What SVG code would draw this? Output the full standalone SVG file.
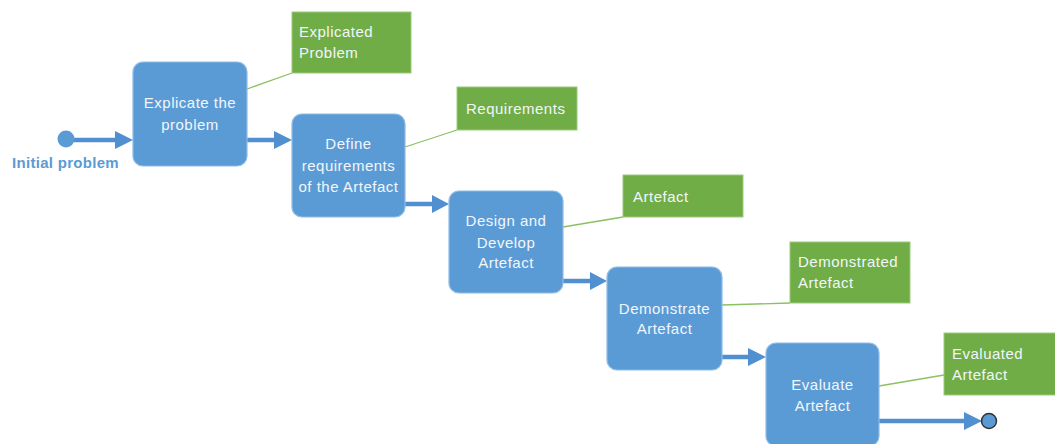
<svg xmlns="http://www.w3.org/2000/svg" width="1055" height="444" viewBox="0 0 1055 444">
<style>
.step{fill:#5B9BD5;stroke:#8DBCE6;stroke-width:1.2}
.out{fill:#70AD47;stroke:#9CCB7A;stroke-width:1}
.t{font-family:"Liberation Sans",Arial,sans-serif;font-size:15px;fill:#F2F6FB;letter-spacing:0.5px}
.tc{text-anchor:middle}
.link{stroke:#8CC063;stroke-width:1.3;fill:none}
.flow{stroke:#5090D0;stroke-width:4.5;fill:none}
.head{fill:#5090D0}
</style>
<rect width="1055" height="444" fill="#fff"/>
<g id="connectors">
<line class="link" x1="247" y1="89" x2="292" y2="73"/>
<line class="link" x1="405" y1="147" x2="457" y2="130"/>
<line class="link" x1="563" y1="227" x2="623" y2="217"/>
<line class="link" x1="722" y1="305" x2="790" y2="303"/>
<line class="link" x1="879" y1="386" x2="944" y2="375"/>
<line class="flow" x1="66" y1="140" x2="117" y2="140"/>
<polygon class="head" points="115,131 133,140 115,149"/>
<line class="flow" x1="247" y1="140" x2="276" y2="140"/>
<polygon class="head" points="274,131 292,140 274,149"/>
<line class="flow" x1="405" y1="204" x2="434" y2="204"/>
<polygon class="head" points="432,195 449,204 432,213"/>
<line class="flow" x1="563" y1="281" x2="592" y2="281"/>
<polygon class="head" points="590,272 607,281 590,290"/>
<line class="flow" x1="722" y1="357" x2="750" y2="357"/>
<polygon class="head" points="748,348 766,357 748,366"/>
<line class="flow" x1="879" y1="421" x2="966" y2="421"/>
<polygon class="head" points="964,412 982,421 964,430"/>
</g>
<g id="start">
<circle cx="66" cy="139" r="8.5" fill="#5B9BD5"/>
<text x="12" y="168" font-family="Liberation Sans,Arial,sans-serif" font-size="15" font-weight="bold" letter-spacing="0.3" fill="#5B9BD5">Initial problem</text>
</g>
<g id="end">
<circle cx="989" cy="421" r="7.5" fill="#5B9BD5" stroke="#333" stroke-width="1.5"/>
</g>
<g id="step1">
<rect class="step" x="133" y="62" width="114" height="104" rx="10"/>
<text class="t tc" x="190" y="108">Explicate the</text>
<text class="t tc" x="190" y="130">problem</text>
</g>
<g id="step2">
<rect class="step" x="292" y="114" width="113" height="103" rx="10"/>
<text class="t tc" x="348.5" y="149">Define</text>
<text class="t tc" x="348.5" y="171">requirements</text>
<text class="t tc" x="348.5" y="192">of the Artefact</text>
</g>
<g id="step3">
<rect class="step" x="449" y="191" width="114" height="102" rx="10"/>
<text class="t tc" x="506" y="226">Design and</text>
<text class="t tc" x="506" y="248">Develop</text>
<text class="t tc" x="506" y="268">Artefact</text>
</g>
<g id="step4">
<rect class="step" x="607" y="267" width="115" height="103" rx="10"/>
<text class="t tc" x="664.5" y="314">Demonstrate</text>
<text class="t tc" x="664.5" y="334">Artefact</text>
</g>
<g id="step5">
<rect class="step" x="766" y="343" width="113" height="103" rx="10"/>
<text class="t tc" x="822.5" y="390">Evaluate</text>
<text class="t tc" x="822.5" y="411">Artefact</text>
</g>
<g id="out1">
<rect class="out" x="292" y="12" width="119" height="61"/>
<text class="t" x="299" y="37">Explicated</text>
<text class="t" x="299" y="58">Problem</text>
</g>
<g id="out2">
<rect class="out" x="457" y="87" width="120" height="43"/>
<text class="t" x="466" y="114">Requirements</text>
</g>
<g id="out3">
<rect class="out" x="623" y="175" width="120" height="42"/>
<text class="t" x="633" y="202">Artefact</text>
</g>
<g id="out4">
<rect class="out" x="790" y="242" width="120" height="61"/>
<text class="t" x="798" y="267">Demonstrated</text>
<text class="t" x="798" y="288">Artefact</text>
</g>
<g id="out5">
<rect class="out" x="944" y="333" width="115" height="62"/>
<text class="t" x="952" y="359">Evaluated</text>
<text class="t" x="952" y="380">Artefact</text>
</g>
</svg>
